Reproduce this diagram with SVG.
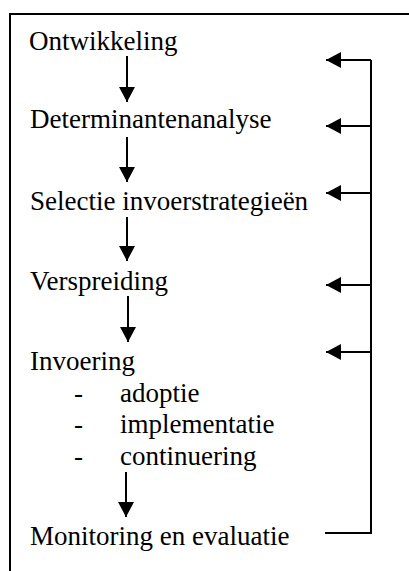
<svg xmlns="http://www.w3.org/2000/svg" width="409" height="571" viewBox="0 0 409 571">
<style>
text{font-family:'Liberation Serif','Times New Roman','DejaVu Serif',serif;font-size:27px;fill:#000}
.l{stroke:#000;stroke-width:2;fill:none}
</style>
<defs>
<marker id="ah" markerUnits="userSpaceOnUse" markerWidth="16" markerHeight="17" viewBox="0 0 16 17" refX="15" refY="8.5" orient="auto">
<path d="M0,0.5 L15,8.5 L0,16.5 Z" fill="#000"/>
</marker>
</defs>
<rect x="10" y="14" width="420" height="580" fill="#fff" stroke="#000" stroke-width="2"/>
<g id="n1"><text x="29" y="50">Ontwikkeling</text></g>
<g id="n2"><text x="30" y="128">Determinantenanalyse</text></g>
<g id="n3"><text x="30" y="210">Selectie invoerstrategieën</text></g>
<g id="n4"><text x="30" y="290">Verspreiding</text></g>
<g id="n5"><text x="30" y="370">Invoering</text>
<text x="74" y="402">-</text><text x="120" y="402">adoptie</text>
<text x="74" y="433">-</text><text x="120" y="433">implementatie</text>
<text x="74" y="465">-</text><text x="120" y="465">continuering</text></g>
<g id="n6"><text x="30" y="545">Monitoring en evaluatie</text></g>
<g id="connectors" class="l">
<line x1="127" y1="56" x2="127" y2="102" marker-end="url(#ah)"/>
<line x1="127" y1="137" x2="127" y2="182" marker-end="url(#ah)"/>
<line x1="127" y1="217" x2="127" y2="261" marker-end="url(#ah)"/>
<line x1="128" y1="296" x2="128" y2="342" marker-end="url(#ah)"/>
<line x1="126" y1="472" x2="126" y2="517" marker-end="url(#ah)"/>
<polyline points="325,533 371,533 371,60"/>
<line x1="371" y1="60" x2="326" y2="60" marker-end="url(#ah)"/>
<line x1="371" y1="126" x2="326" y2="126" marker-end="url(#ah)"/>
<line x1="371" y1="193" x2="326" y2="193" marker-end="url(#ah)"/>
<line x1="371" y1="285" x2="326" y2="285" marker-end="url(#ah)"/>
<line x1="371" y1="352" x2="326" y2="352" marker-end="url(#ah)"/>
</g>
</svg>
